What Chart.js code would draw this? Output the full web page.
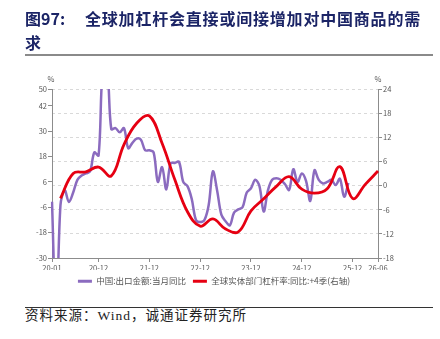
<!DOCTYPE html>
<html><head><meta charset="utf-8">
<script src="https://cdn.jsdelivr.net/npm/chart.js@4.4.1/dist/chart.umd.min.js"></script>
<style>
html,body{margin:0;padding:0;background:#fff;}
body{width:440px;height:339px;position:relative;overflow:hidden;}
#wrap{position:absolute;left:0;top:0;width:440px;height:300px;}
.t{position:absolute;font-family:'Noto Sans CJK SC',sans-serif;font-weight:700;font-size:16px;color:#1b2466;line-height:17px;white-space:nowrap;}
.f{position:absolute;left:25px;top:309px;font-family:'Liberation Serif','Noto Sans CJK SC',serif;font-size:13.5px;letter-spacing:1px;line-height:14px;color:#222;white-space:nowrap;}
</style></head>
<body>
<div id="wrap"><canvas id="c" width="440" height="300"></canvas></div>
<div class="t" style="left:25px;top:10px;">图97:</div>
<div class="t" style="left:85px;top:10px;letter-spacing:0.8px;">全球加杠杆会直接或间接增加对中国商品的需</div>
<div class="t" style="left:25px;top:34px;">求</div>
<div style="position:absolute;left:25px;top:54px;width:408px;height:2px;background:#8a8a8a"></div>
<div style="position:absolute;left:25px;top:307px;width:408px;height:1px;background:#333"></div>
<div class="f">资料来源：Wind，诚通证券研究所</div>
<script>
const months = ['20-01','20-02','20-03','20-04','20-05','20-06','20-07','20-08','20-09','20-10','20-11','20-12',
'21-01','21-02','21-03','21-04','21-05','21-06','21-07','21-08','21-09','21-10','21-11','21-12',
'22-01','22-02','22-03','22-04','22-05','22-06','22-07','22-08','22-09','22-10','22-11','22-12',
'23-01','23-02','23-03','23-04','23-05','23-06','23-07','23-08','23-09','23-10','23-11','23-12',
'24-01','24-02','24-03','24-04','24-05','24-06','24-07','24-08','24-09','24-10','24-11','24-12',
'25-01','25-02','25-03','25-04','25-05','25-06','25-07','25-08','25-09','25-10','25-11','25-12',
'26-01','26-02','26-03','26-04','26-05','26-06'];
const xTickLabels = ['20-01','20-12','21-12','22-12','23-12','24-12','25-12','26-06'];
const leftTicks = [-30,-18,-6,6,18,30,42,50];
const rightTicks = [-18,-12,-6,0,6,12,18,24];
// 中国:出口金额:当月同比 (monthly from 20-01)
const exportYoY = [-3.4,-60,-5,2,-3.5,1,7,9,10,11,20,18.5,
60,60,31,31.5,29.5,31.5,22,24.5,26.5,26,21,21,
20,6,13,2.5,14.8,15,15.5,6,4,-2,-12,-13,
-12,-5,11,2,-9.5,-12.6,-14.5,-8.5,-7,-6,1,3,
7,4,-8,2,7,7.7,7,5,2.2,12,6,10,
6.5,-3,11.5,7,5.3,6,7,4.5,7.5,-1,5.5];
// 全球实体部门杠杆率:同比:+4季 (quarterly)
const leverageMonths = ['20-03','20-06','20-09','20-12','21-03','21-06','21-09','21-12','22-03','22-06','22-09','22-12',
'23-03','23-06','23-09','23-12','24-03','24-06','24-09','24-12','25-03','25-06','25-09','25-12','26-03','26-06'];
const leverageYoY = [-3.2,3.0,3.4,4.6,2.4,10.2,15.5,17.3,10.5,1.5,-6.5,-10.1,
-8.3,-10.8,-11.5,-6.3,-3.3,-0.2,2.2,-0.9,-1.9,-0.8,4.7,-3.2,0.3,3.6];

const exportData = months.map((m,i)=> i < exportYoY.length ? exportYoY[i] : null);
const levData = months.map(m => { const k = leverageMonths.indexOf(m); return k >= 0 ? leverageYoY[k] : null; });

const AX = '#8c8c8c', TXT = '#555';
const FONT = "'Noto Sans CJK SC','Noto Sans',sans-serif";
Chart.defaults.font.family = FONT;

const unitPlugin = {
  id: 'units',
  afterDraw(chart) {
    const {ctx, chartArea} = chart;
    ctx.save();
    ctx.font = '7.5px ' + FONT;
    ctx.fillStyle = TXT;
    ctx.textAlign = 'center';
    ctx.textBaseline = 'middle';
    ctx.fillText('%', chartArea.left - 1, chartArea.top - 10);
    ctx.fillText('%', chartArea.right, chartArea.top - 10);
    ctx.restore();
  }
};

new Chart(document.getElementById('c'), {
  type: 'line',
  data: {
    labels: months,
    datasets: [
      { label: '中国:出口金额:当月同比', data: exportData, yAxisID: 'y', borderColor: '#8b6bbf', backgroundColor: '#8b6bbf',
        borderWidth: 2.5, pointRadius: 0, tension: 0.35, fill: false, order: 2 },
      { label: '全球实体部门杠杆率:同比:+4季(右轴)', data: levData, yAxisID: 'y1', borderColor: '#e60012', backgroundColor: '#e60012',
        borderWidth: 2.8, pointRadius: 0, tension: 0.4, spanGaps: true, fill: false, order: 1 }
    ]
  },
  options: {
    responsive: false, animation: false, devicePixelRatio: 1,
    layout: { padding: { top: 89, left: 0, right: 12, bottom: 4.5 } },
    plugins: {
      tooltip: { enabled: false },
      legend: {
        position: 'bottom',
        labels: {
          boxWidth: 14, boxHeight: 3, padding: 7, color: TXT, font: { size: 8.5 },
          sort: (a, b) => a.datasetIndex - b.datasetIndex,
          generateLabels(chart) {
            const items = Chart.defaults.plugins.legend.labels.generateLabels(chart);
            items.forEach(it => { it.lineWidth = 0; it.fillStyle = chart.data.datasets[it.datasetIndex].borderColor; });
            return items;
          }
        }
      }
    },
    scales: {
      x: {
        type: 'category', offset: false,
        grid: { display: true, drawOnChartArea: false, drawTicks: true, tickLength: 4, color: AX },
        border: { display: true, color: AX },
        ticks: { autoSkip: false, maxRotation: 0, minRotation: 0, padding: 1.5, color: TXT, font: { size: 7.5 } },
        afterBuildTicks: s => { s.ticks = xTickLabels.map(l => ({ value: months.indexOf(l) })); },
        afterFit: s => { s.height = 12; }
      },
      y: {
        position: 'left', min: -30, max: 50,
        grid: { display: true, drawOnChartArea: false, tickLength: 4, color: AX },
        border: { display: true, color: AX },
        ticks: { padding: 1, color: TXT, font: { size: 7.5 } },
        afterBuildTicks: s => { s.ticks = leftTicks.map(v => ({ value: v })); },
        afterFit: s => { s.width = 52; }
      },
      y1: {
        position: 'right', min: -18, max: 24,
        grid: { display: true, drawOnChartArea: true, tickLength: 4, tickColor: AX,
          color: c => (c.tick && c.tick.value === -18) ? 'rgba(0,0,0,0)' : '#d9d9d9' },
        border: { display: true, color: AX, dash: [3, 3] },
        ticks: { padding: 1, color: TXT, font: { size: 7.5 } },
        afterBuildTicks: s => { s.ticks = rightTicks.map(v => ({ value: v })); },
        afterFit: s => { s.width = 50; }
      }
    }
  },
  plugins: [unitPlugin]
});
</script>
</body></html>
